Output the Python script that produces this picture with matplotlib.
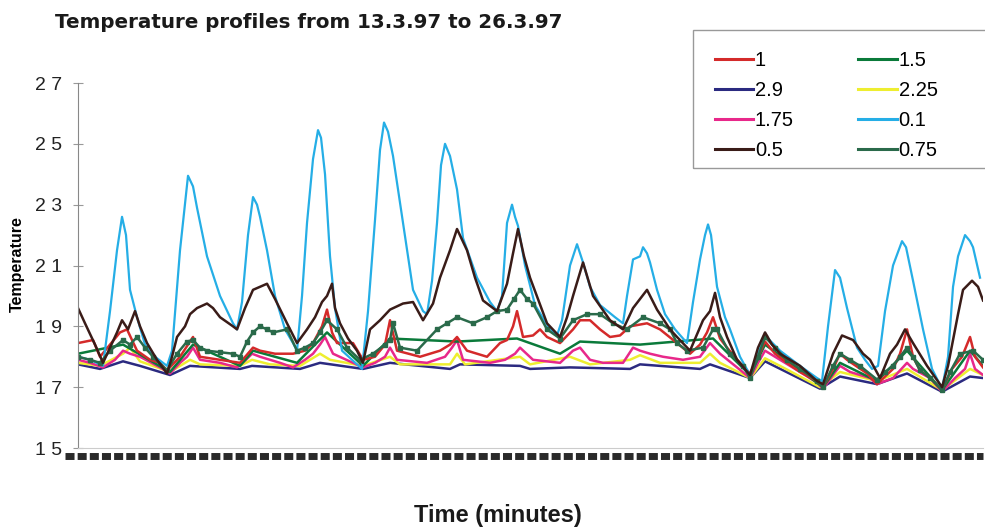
import matplotlib
matplotlib.use("Agg")
import matplotlib.pyplot as plt
from matplotlib.lines import Line2D
from matplotlib.patches import Rectangle

plt.rcParams['font.family'] = ['Liberation Sans', 'DejaVu Sans']

# ---------------- data (time in minutes, temperature) ----------------
t_01 = [0, 240, 500, 640, 780, 880, 960, 1040, 1180, 1340, 1540, 1780, 1880, 2040, 2200, 2300, 2380,
        2580, 2840, 3100, 3180, 3280, 3400, 3500, 3580, 3640, 3780, 3940, 4140, 4300, 4380, 4480,
        4580, 4700, 4800, 4860, 4940, 5040, 5140, 5280, 5480, 5680, 5800, 5940, 6040, 6120, 6200,
        6300, 6500, 6700, 6900, 6980, 7080, 7180, 7260, 7340, 7440, 7580, 7700, 7980, 8240, 8380,
        8480, 8580, 8680, 8740, 8800, 8940, 9140, 9400, 9580, 9680, 9840, 9980, 10040, 10100, 10240,
        10440, 10740, 10900, 10980, 11100, 11240, 11300, 11380, 11440, 11580, 11740, 11940, 12180,
        12300, 12440, 12540, 12600, 12660, 12780, 12940, 13040, 13240, 13440, 13740, 14040, 14440,
        14780, 14880, 15000, 15140, 15240, 15380, 15580, 15740, 15880, 16000, 16140, 16300, 16480,
        16560, 16700, 16900, 17080, 17280, 17400, 17500, 17600, 17740, 17840, 17900, 18040]
v_01 = [18.0, 17.9, 17.7, 19.5, 21.5, 22.6, 22.0, 20.2, 19.3, 18.4, 18.0, 17.7, 18.2, 21.5, 23.95, 23.6, 22.9,
        21.3, 20.0, 19.1, 18.9, 19.8, 22.0, 23.25, 23.0, 22.6, 21.5, 20.0, 18.9, 18.45, 18.2, 20.0,
        22.4, 24.5, 25.45, 25.2, 24.0, 21.3, 19.6, 18.2, 17.9, 17.6, 19.5, 22.5, 24.8, 25.7, 25.4,
        24.6, 22.4, 20.2, 19.5, 19.4, 20.5, 22.4, 24.3, 25.0, 24.6, 23.5, 21.9, 20.6, 19.8, 19.5,
        20.0, 22.4, 23.0, 22.6, 22.3, 21.0, 19.7, 19.0, 18.7, 19.2, 21.0, 21.7, 21.4, 21.1, 20.3,
        19.7, 19.3, 19.1, 20.0, 21.2, 21.3, 21.6, 21.4, 21.1, 20.2, 19.4, 18.9, 18.45,
        19.8, 21.2, 22.0, 22.35, 22.0, 20.3, 19.3, 18.9, 18.0, 17.4, 18.7, 18.2, 17.7,
        17.3, 17.2, 19.0, 20.85, 20.6, 19.6, 18.3, 17.9, 17.6, 17.7, 19.5, 21.0, 21.8,
        21.6, 20.5, 18.9, 17.6, 16.95, 18.0, 20.3, 21.3, 22.0, 21.8, 21.6, 20.6]

t_05 = [0, 140, 340, 500, 640, 780, 880, 1000, 1140, 1240, 1380, 1580, 1780, 1880, 1980, 2140, 2240, 2380,
        2580, 2700, 2840, 3100, 3180, 3340, 3500, 3640, 3780, 3940, 4180, 4380, 4580, 4740, 4880, 4980,
        5080, 5140, 5240, 5400, 5580, 5700, 5840, 6040, 6240, 6500, 6700, 6900, 7100, 7240, 7440, 7580,
        7780, 7940, 8100, 8380, 8580, 8700, 8800, 8920, 9040, 9380, 9640, 9780, 9900, 10100, 10300,
        10640, 10900, 11100, 11240, 11380, 11580, 11840, 11980, 12240, 12500, 12640, 12740, 12840,
        12980, 13180, 13440, 13600, 13740, 13880, 14040, 14440, 14780, 14900, 15100, 15280, 15500,
        15700, 15840, 16040, 16240, 16380, 16540, 16700, 16980, 17280, 17400, 17500, 17600, 17700,
        17880, 18000, 18100]
v_05 = [19.6, 19.1, 18.4, 17.8, 18.3, 18.8, 19.2, 18.9, 19.5, 19.0, 18.45, 17.9, 17.45, 18.0, 18.65, 19.0, 19.4, 19.6,
        19.75, 19.6, 19.3, 19.0, 18.9, 19.6, 20.2, 20.3, 20.4, 19.9, 19.1, 18.45, 18.9, 19.3, 19.8, 20.0,
        20.4, 19.6, 19.1, 18.6, 18.2, 17.8, 18.9, 19.2, 19.55, 19.75, 19.8, 19.2, 19.75, 20.6, 21.5, 22.2,
        21.5, 20.6, 19.85, 19.5, 20.4, 21.4, 22.2, 21.3, 20.6, 19.1, 18.65, 19.3, 20.0, 21.1, 20.0,
        19.2, 18.9, 19.6, 19.9, 20.2, 19.55, 18.9, 18.65, 18.2, 19.2, 19.5, 20.1, 19.3,
        18.65, 17.9, 17.4, 18.3, 18.8, 18.4, 18.1, 17.7, 17.2, 17.1, 18.1, 18.7, 18.55,
        18.1, 17.9, 17.3, 18.1, 18.4, 18.9, 18.45, 17.7, 17.0, 17.7, 18.55, 19.4, 20.2,
        20.5, 20.3, 19.85]

t_075 = [0, 240, 440, 640, 900, 1040, 1180, 1340, 1500, 1780, 1980, 2180, 2300, 2440, 2580, 2840, 3100,
         3240, 3380, 3500, 3640, 3780, 3900, 4180, 4380, 4540, 4700, 4840, 4980, 5180, 5380, 5640,
         5900, 6140, 6240, 6300, 6440, 6780, 7180, 7380, 7580, 7900, 8180, 8380, 8580, 8720, 8840,
         8980, 9100, 9380, 9640, 9900, 10180, 10440, 10700, 10980, 11300, 11640, 11840, 11980, 12180,
         12500, 12700, 12780, 13040, 13300, 13440, 13600, 13740, 13940, 14180, 14440, 14780, 14900,
         15100, 15240, 15440, 15640, 15980, 16140, 16300, 16440, 16580, 16700, 16840, 17040, 17280,
         17440, 17640, 17900, 18100]
v_075 = [18.0, 17.9, 17.8, 18.2, 18.55, 18.4, 18.65, 18.3, 18.0, 17.55, 18.1, 18.5, 18.55, 18.3, 18.2, 18.15, 18.1,
         18.0, 18.5, 18.8, 19.0, 18.9, 18.8, 18.9, 18.2, 18.3, 18.45, 18.8, 19.2, 18.9, 18.3, 17.9,
         18.1, 18.4, 18.55, 19.1, 18.3, 18.2, 18.9, 19.1, 19.3, 19.1, 19.3, 19.5, 19.55, 19.9, 20.2,
         19.9, 19.75, 18.9, 18.6, 19.2, 19.4, 19.4, 19.1, 18.9, 19.3, 19.1, 18.9, 18.45, 18.2,
         18.3, 18.9, 18.9, 18.1, 17.7, 17.3, 18.0, 18.65, 18.3, 17.9, 17.6, 17.2, 17.0,
         17.7, 18.1, 17.9, 17.7, 17.25, 17.5, 17.7, 18.0, 18.3, 18.0, 17.55, 17.3, 16.9,
         17.5, 18.1, 18.2, 17.9]

t_1 = [0, 300, 440, 640, 840, 980, 1180, 1440, 1640, 1780, 2040, 2300, 2440, 2840, 3240, 3500, 3640,
       3940, 4300, 4540, 4700, 4880, 4980, 5080, 5180, 5500, 5700, 5940, 6140, 6240, 6380, 6840, 7240,
       7440, 7580, 7780, 8180, 8440, 8580, 8700, 8780, 8900, 9100, 9240, 9380, 9640, 9900, 10040,
       10240, 10440, 10640, 10840, 11040, 11380, 11640, 11980, 12240, 12440, 12580, 12700, 12840,
       12980, 13240, 13440, 13600, 13740, 13940, 14180, 14440, 14780, 14900, 15100, 15240, 15380,
       15780, 15980, 16300, 16440, 16580, 16700, 16840, 17040, 17280, 17480, 17680, 17840, 17940, 18100]
v_1 = [18.45, 18.55, 18.0, 18.4, 18.8, 18.9, 18.2, 17.9, 17.8, 17.55, 18.0, 18.65, 18.0, 17.9, 17.8, 18.3, 18.2,
       18.1, 18.1, 18.2, 18.45, 19.0, 19.55, 18.8, 18.45, 18.45, 17.9, 18.0, 18.4, 19.2, 18.2, 18.0, 18.2,
       18.4, 18.65, 18.2, 18.0, 18.45, 18.55, 19.0, 19.5, 18.65, 18.7, 18.9, 18.65, 18.45, 18.9, 19.2,
       19.2, 18.9, 18.65, 18.7, 19.0, 19.1, 18.9, 18.45, 18.1, 18.4, 18.8, 19.3, 18.6,
       18.3, 17.8, 17.45, 18.0, 18.5, 18.1, 17.8, 17.5, 17.2, 17.0, 17.6, 18.1, 17.9,
       17.45, 17.1, 17.6, 18.1, 18.9, 18.0, 17.55, 17.3, 16.9, 17.6, 18.0, 18.65, 18.0, 17.65]

t_175 = [0, 240, 500, 740, 900, 1040, 1240, 1640, 1840, 2040, 2180, 2300, 2440, 2840, 3180, 3360, 3480,
         3640, 4040, 4300, 4540, 4700, 4840, 4940, 5100, 5500, 5700, 5940, 6140, 6240, 6380, 6980, 7340,
         7480, 7580, 7700, 8240, 8540, 8740, 8840, 9100, 9640, 9900, 10040, 10240, 10500, 10900, 11100,
         11240, 11440, 11700, 12100, 12440, 12640, 12840, 13180, 13440, 13600, 13740, 14040, 14440,
         14780, 14900, 15100, 15240, 15440, 15840, 15980, 16300, 16580, 16700, 17040, 17280, 17540,
         17740, 17840, 17940, 18100]
v_175 = [17.9, 17.8, 17.65, 17.9, 18.2, 18.1, 18.0, 17.65, 17.45, 17.8, 18.0, 18.3, 17.9, 17.8, 17.65, 17.9, 18.1,
         18.0, 17.8, 17.65, 17.9, 18.1, 18.4, 18.65, 18.1, 17.8, 17.65, 17.8, 18.0, 18.3, 17.9, 17.8, 18.0,
         18.3, 18.55, 17.9, 17.8, 17.9, 18.1, 18.3, 17.9, 17.8, 18.2, 18.3, 17.9, 17.8, 17.8, 18.3,
         18.2, 18.1, 18.0, 17.9, 18.0, 18.45, 18.1, 17.65, 17.3, 17.8, 18.2, 17.9, 17.5,
         17.15, 16.95, 17.4, 17.7, 17.5, 17.3, 17.1, 17.3, 17.8, 17.6, 17.3, 16.85, 17.3,
         17.6, 18.1, 17.6, 17.4]

t_225 = [0, 440, 900, 1040, 1240, 1840, 2240, 2440, 3240, 3480, 3840, 4440, 4840, 5040, 5700, 6240, 6440,
         7440, 7580, 7740, 8840, 9040, 9840, 10240, 11040, 11240, 11640, 12440, 12640, 12840, 13440,
         13740, 14040, 14840, 15240, 15980, 16580, 17280, 17840, 18100]
v_225 = [17.8, 17.7, 18.1, 18.3, 17.85, 17.5, 17.9, 17.75, 17.7, 17.9, 17.75, 17.7, 18.1, 17.9, 17.7, 18.0, 17.75,
         17.75, 18.1, 17.75, 18.0, 17.75, 18.0, 17.75, 17.9, 18.05, 17.8, 17.8, 18.1, 17.8, 17.3,
         17.95, 17.7, 17.0, 17.5, 17.2, 17.6, 16.9, 17.6, 17.4]

t_29 = [0, 440, 900, 1240, 1840, 2240, 3240, 3480, 4440, 4840, 5700, 6240, 7440, 7640, 8840, 9040, 9840,
        11040, 11240, 12440, 12640, 13440, 13740, 14840, 15240, 15980, 16580, 17280, 17840, 18100]
v_29 = [17.75, 17.6, 17.85, 17.7, 17.4, 17.7, 17.6, 17.7, 17.6, 17.8, 17.6, 17.8, 17.6, 17.75, 17.7, 17.6, 17.65,
        17.6, 17.75, 17.6, 17.75, 17.3, 17.85, 16.95, 17.35, 17.1, 17.45, 16.85, 17.35, 17.3]

t_15 = [0, 900, 1840, 2300, 3240, 3500, 4380, 4980, 5700, 6240, 7580, 8780, 9640, 10040, 11240, 12700,
        13440, 13740, 14900, 15240, 15980, 16580, 17280, 17840, 18100]
v_15 = [18.1, 18.4, 17.5, 18.4, 17.7, 18.2, 17.8, 18.8, 17.7, 18.6, 18.5, 18.6, 18.1, 18.5, 18.4, 18.6,
        17.4, 18.4, 17.0, 17.8, 17.2, 18.2, 16.9, 18.2, 17.7]

labels = ["1", "2.9", "1.75", "0.5", "1.5", "2.25", "0.1", "0.75"]
title = "Temperature profiles from 13.3.97 to 26.3.97"
yticks = [15, 17, 19, 21, 23, 25, 27]

# ---------------- figure ----------------
fig = plt.figure(figsize=(9.85, 5.29), dpi=100)
ax = fig.add_axes([0.0792, 0.1531, 0.9188, 0.69])

lw = 1.8
series = {
    "2.9":  (t_29, v_29, dict(color="#2b2a80", lw=lw)),
    "2.25": (t_225, v_225, dict(color="#eeee30", lw=lw)),
    "1.75": (t_175, v_175, dict(color="#e8288a", lw=lw)),
    "1.5":  (t_15, v_15, dict(color="#0a7a3a", lw=lw)),
    "1":    (t_1, v_1, dict(color="#d42a2a", lw=lw)),
    "0.1":  (t_01, v_01, dict(color="#25aee6", lw=1.6)),
    "0.75": (t_075, v_075, dict(color="#2a6a4a", lw=lw, marker="s", ms=2.2)),
    "0.5":  (t_05, v_05, dict(color="#3a1c18", lw=lw)),
}
handles = {}
for name, (t, v, kw) in series.items():
    ln, = ax.plot(t, v, **kw)
    handles[name] = ln

ax.set_xlim(0, 18100)
ax.set_ylim(15, 27)
ax.set_yticks(yticks)
ax.set_yticklabels([" ".join(str(y)) for y in yticks], fontsize=14)
ax.set_xticks([])
for s in ["top", "right"]:
    ax.spines[s].set_visible(False)
ax.spines["left"].set_color("#888888")
ax.spines["bottom"].set_color("#cccccc")
ax.tick_params(axis="y", direction="inout", length=7, color="#999999", pad=8, labelcolor="#222222")

# row of blurred (unreadable) x tick labels
ax.plot([-0.014, 1.0], [-0.022, -0.022], transform=ax.transAxes, clip_on=False,
        color="#2a2a2a", lw=5, dashes=(1.3, 0.45), solid_capstyle="butt")

fig.text(0.056, 0.958, title, fontsize=14.3, fontweight="bold", va="center", ha="left",
         family="DejaVu Sans", color="#1a1a1a")
fig.text(0.018, 0.50, "Temperature", rotation=90, fontsize=11.5, fontweight="bold",
         va="center", ha="center")
fig.text(0.505, 0.026, "Time (minutes)", fontsize=17, fontweight="bold", va="center", ha="center",
         color="#1a1a1a")

leg_handles = [Line2D([0], [0], color=handles[n].get_color(), lw=2.2) for n in labels]
leg = fig.legend(leg_handles, labels, ncol=2, loc="upper left", bbox_to_anchor=(0.703, 0.945),
                 fontsize=14.5, frameon=False,
                 handlelength=1.9, handletextpad=0.1, columnspacing=3.2, labelspacing=0.55,
                 borderpad=0.6)
# legend box runs off the right edge, as in the reference
fig.patches.append(Rectangle((693 / 985, 1 - 168 / 529), 300 / 985, 138 / 529,
                             transform=fig.transFigure, fill=False, ec="#999999", lw=1.0))

fig.savefig("out.png", dpi=100)
